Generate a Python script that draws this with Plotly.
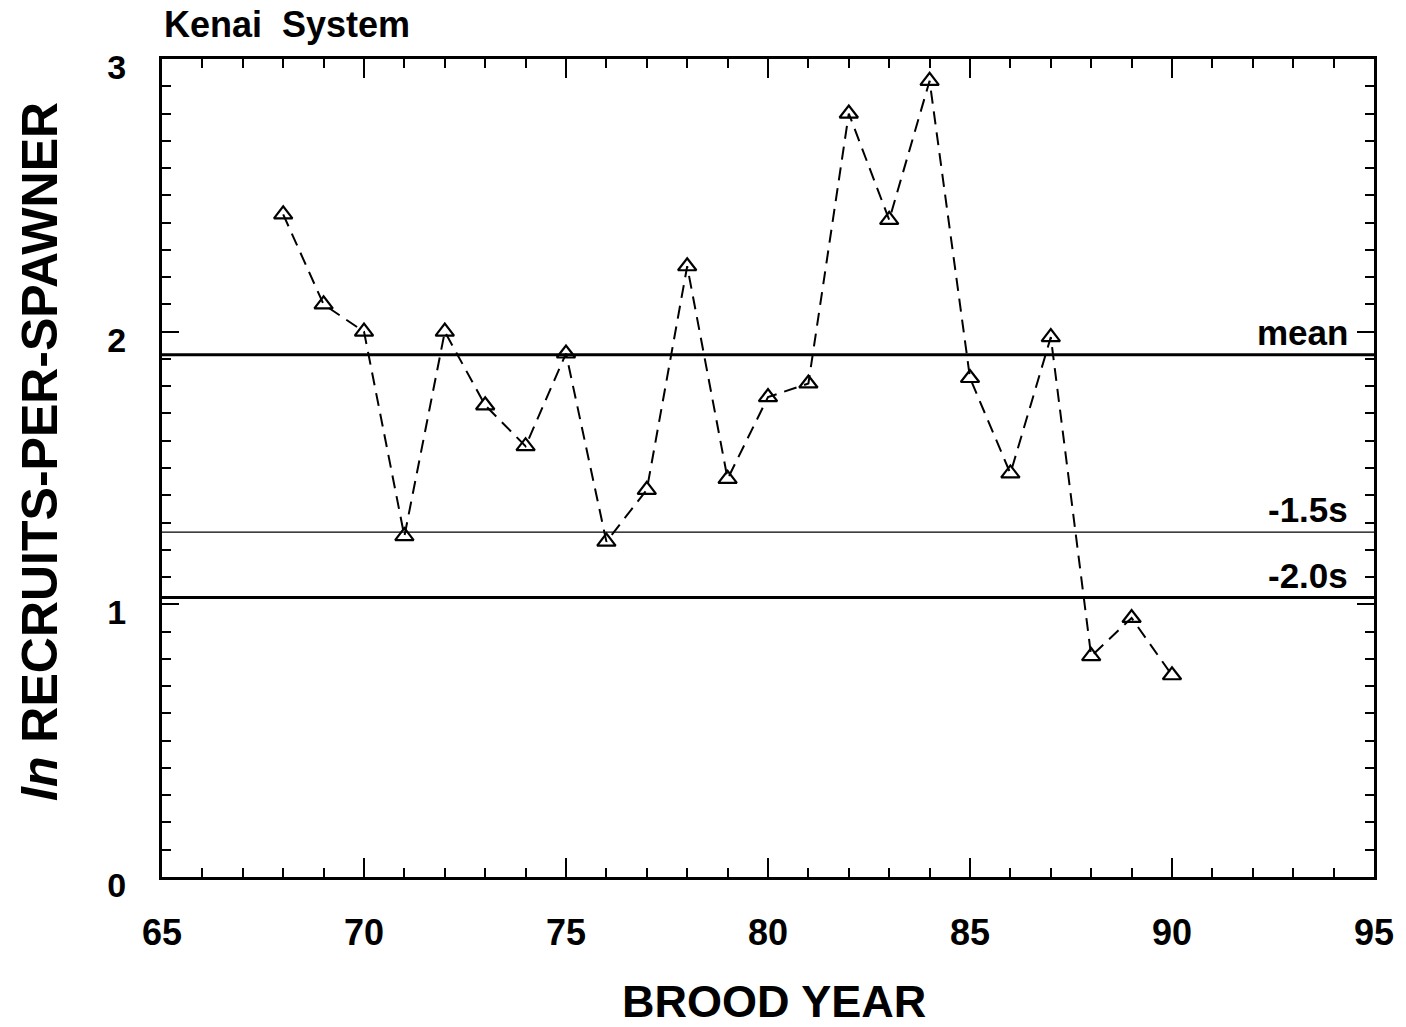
import plotly.graph_objects as go

# ---- data ----
brood_year = [68, 69, 70, 71, 72, 73, 74, 75, 76, 77, 78, 79, 80, 81, 82, 83, 84, 85, 86, 87, 88, 89, 90]
ln_rps = [2.43, 2.10, 2.00, 1.25, 2.00, 1.73, 1.58, 1.92, 1.23, 1.42, 2.24, 1.46, 1.76, 1.81, 2.80, 2.41, 2.92,
          1.83, 1.48, 1.98, 0.81, 0.95, 0.74]
ref_names = ["mean", "-1.5s", "-2.0s"]
ref_values = [1.915, 1.265, 1.025]
ref_widths = [3, 1.2, 3]
x_range = [65, 95]
y_range = [0, 3]

FONT = "Liberation Sans, Arial, sans-serif"

fig = go.Figure()

for name, val, w in zip(ref_names, ref_values, ref_widths):
    fig.add_trace(go.Scatter(x=x_range, y=[val, val], mode="lines",
                             line=dict(color="black", width=w), showlegend=False, hoverinfo="skip"))
    fig.add_annotation(x=94.4, y=val, xref="x", yref="y", text="<b>%s</b>" % name,
                       showarrow=False, xanchor="right", yanchor="bottom", yshift=1,
                       font=dict(family=FONT, size=35, color="black"))

fig.add_trace(go.Scatter(x=brood_year, y=ln_rps, mode="lines+markers",
                         line=dict(color="black", width=2, dash="13px,8px"),
                         marker=dict(symbol="triangle-up-open", size=16, color="black",
                                     line=dict(color="black", width=2.2)),
                         showlegend=False))

axis_common = dict(showgrid=False, zeroline=False, showline=True, linecolor="black", linewidth=3,
                   mirror="allticks", ticks="inside", tickcolor="black", tickwidth=2)

fig.update_xaxes(range=x_range, dtick=5, tick0=65, ticklen=19,
                 minor=dict(dtick=1, tick0=65, ticks="inside", ticklen=9, tickcolor="black", tickwidth=2, showgrid=False),
                 tickfont=dict(family=FONT, size=36, color="black"),
                 tickprefix="<b>", ticksuffix="</b>", ticklabelstandoff=22, **axis_common)
fig.update_yaxes(range=y_range, dtick=1, tick0=0, ticklen=17,
                 minor=dict(dtick=0.1, tick0=0, ticks="inside", ticklen=9, tickcolor="black", tickwidth=2, showgrid=False),
                 tickfont=dict(family=FONT, size=34, color="black"),
                 tickprefix="<b>", ticksuffix="</b>", ticklabelstandoff=26, ticklabelshift=8, **axis_common)

fig.add_annotation(x=0, y=1, xref="paper", yref="paper", text="<b>Kenai  System</b>", showarrow=False,
                   xanchor="left", yanchor="bottom", yshift=12, font=dict(family=FONT, size=36, color="black"))
fig.add_annotation(x=0.5, y=0, xref="paper", yref="paper", text="<b>BROOD YEAR</b>", showarrow=False,
                   xanchor="center", yanchor="middle", yshift=-124, xshift=6,
                   font=dict(family=FONT, size=45, color="black"))
fig.add_annotation(x=0, y=0.5, xref="paper", yref="paper", text="<b><i>ln</i> RECRUITS-PER-SPAWNER</b>",
                   showarrow=False, textangle=-90, xanchor="center", yanchor="middle", xshift=-122, yshift=16,
                   font=dict(family=FONT, size=50, color="black"))

fig.update_layout(width=1406, height=1027, margin=dict(l=162, r=23, t=59, b=150),
                  plot_bgcolor="white", paper_bgcolor="white")

fig.write_html("out.html")
